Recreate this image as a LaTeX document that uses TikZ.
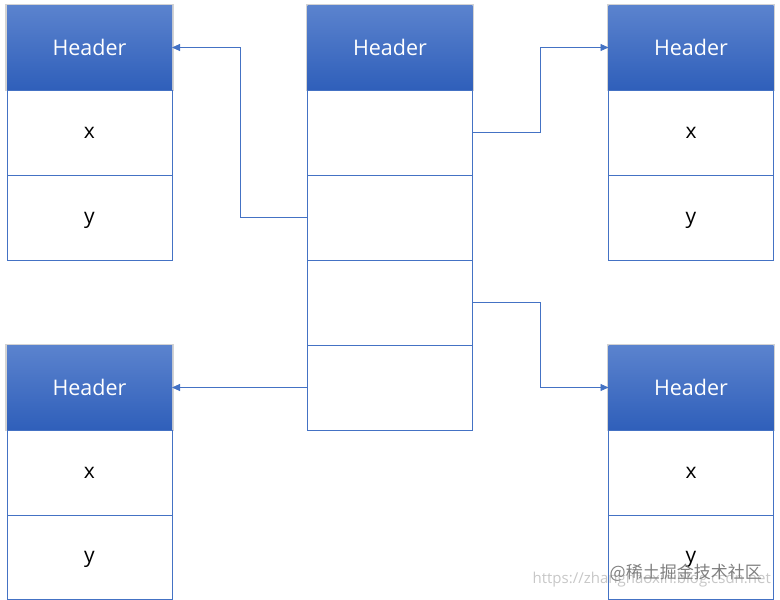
\documentclass[tikz,border=0pt]{standalone}
\usepackage{fontspec}
\setmainfont{Open Sans}
\newfontfamily\cjkfont{Noto Sans CJK SC}
\usetikzlibrary{arrows.meta,shadows}
\definecolor{lineblue}{HTML}{4472C4}
\definecolor{hdtop}{HTML}{5B83CE}
\definecolor{hdbot}{HTML}{2F5FBA}
\tikzset{
  cellbox/.style={draw=lineblue, line width=0.9pt, fill=white, minimum width=165pt, minimum height=85pt, inner sep=0pt, outer sep=0pt, font=\fontsize{21}{25}\selectfont, text=black, text height=11.2pt, text depth=0pt},
  headbox/.style={cellbox, draw=none, top color=hdtop, bottom color=hdbot, text=white, text height=, text depth=, font=\fontsize{21.5}{25}\selectfont,
     drop shadow={shadow xshift=0pt, shadow yshift=0pt, opacity=0.35, shadow scale=1.02}},
  conn/.style={draw=lineblue, line width=0.9pt, -{Triangle[length=8pt,width=7pt]}},
}
\begin{document}
\begin{tikzpicture}[x=1pt,y=-1pt]
\useasboundingbox (0,0) rectangle (780,600);
% left top table
\node[headbox] (lth) at (89.5,47.5) {Header};
\node[cellbox] (ltx) at (89.5,132.5) {x};
\node[cellbox] (lty) at (89.5,217.5) {y};
% left bottom table
\node[headbox] (lbh) at (89.5,387.5) {Header};
\node[cellbox] (lbx) at (89.5,472.5) {x};
\node[cellbox, minimum height=84pt] (lby) at (89.5,557) {y};
% middle table
\node[headbox] (mh) at (390,47.5) {Header};
\node[cellbox] (m1) at (390,132.5) {};
\node[cellbox] (m2) at (390,217.5) {};
\node[cellbox] (m3) at (390,302.5) {};
\node[cellbox] (m4) at (390,387.5) {};
% right top table
\node[headbox] (rth) at (691,47.5) {Header};
\node[cellbox] (rtx) at (691,132.5) {x};
\node[cellbox] (rty) at (691,217.5) {y};
% right bottom table
\node[headbox] (rbh) at (691,387.5) {Header};
\node[cellbox] (rbx) at (691,472.5) {x};
\node[cellbox, minimum height=84pt] (rby) at (691,557) {y};
% connectors
\draw[conn] (m2.west) -- ++(-67,0) |- (lth.east);
\draw[conn] (m1.east) -- ++(68,0) |- (rth.west);
\draw[conn] (m3.east) -- ++(68,0) |- (rbh.west);
\draw[conn] (m4.west) -- (lbh.east);
% watermark
\node[anchor=east, text=black!22, font=\fontsize{15}{18}\selectfont, inner sep=0pt] (wm1) at (771,580) {https://zhanghaoxin.blog.csdn.net};
\node[anchor=east, text=black!50, font=\cjkfont\fontsize{17}{20}\selectfont, inner sep=0pt] (wm2) at (762,573) {@稀土掘金技术社区};
\end{tikzpicture}
\end{document}
